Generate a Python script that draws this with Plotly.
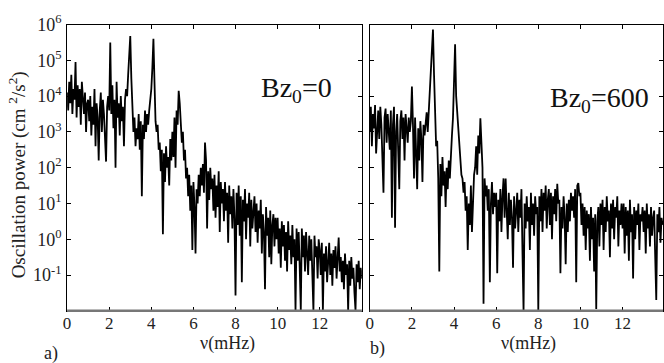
"""Oscillation power spectra for Bz0=0 and Bz0=600, two log panels."""

import numpy as np
import plotly.graph_objects as go

# frequency grid step (mHz) shared by both spectra
freq_step = 0.05

# log10 of oscillation power (cm^2/s^2), panel a) Bz0=0
log_power_a = [
    4.1, 3.6, 4.4, 3.8, 4.6, 3.5, 4.2, 3.9, 4.95, 3.4, 4.3, 3.7, 4.2, 3.2, 4.4, 3.9, 3.5, 4.1, 3.0, 3.8,
    3.9, 3.3, 4.0, 2.9, 3.7, 3.2, 4.2, 2.6, 3.8, 3.4, 2.2, 3.6, 4.1, 3.0, 3.9, 3.5, 2.5, 2.17, 3.7, 4.0,
    3.6, 5.5, 3.5, 4.3, 3.1, 3.9, 2.0, 4.4, 3.4, 3.8, 2.9, 4.0, 3.3, 3.7, 2.6, 3.9, 4.2, 4.0, 4.6, 5.1,
    5.68, 4.5, 3.6, 3.0, 3.4, 2.6, 3.1, 2.8, 3.5, 2.5, 3.3, 1.2, 3.2, 2.8, 3.6, 3.0, 3.5, 3.2, 3.6, 3.9,
    4.2, 4.8, 5.6, 4.4, 3.3, 3.0, 3.2, 2.5, 2.7, 1.9, 2.5, 0.14, 2.4, 1.6, 2.6, 2.0, 2.3, 1.5, 2.8, 2.2,
    3.0, 2.3, 3.4, 2.0, 3.6, 3.2, 4.15, 3.8, 3.3, 2.7, 3.0, 2.2, 2.5, 1.7, 2.0, 1.2, 1.8, 0.8, 1.5, -0.3,
    1.6, 0.9, -0.4, 1.4, 1.0, 1.8, 1.2, 2.0, 1.5, 2.1, 1.3, 2.7, 2.2, 0.3, 1.9, 1.1, 2.0, 1.4, 1.7, 0.8,
    1.8, 0.6, 1.5, 0.9, 1.9, 0.2, 1.6, 1.0, 1.4, 0.5, 1.6, 0.8, 1.3, -0.1, 1.5, 0.7, 1.2, 0.3, 1.4, 0.6,
    -1.57, 1.3, 0.4, 1.5, 0.1, 1.2, -1.2, 1.1, 0.5, 1.4, 0.0, 1.0, 0.6, 1.3, -0.2, 1.1, 0.3, 0.9, 1.2, 0.2,
    1.0, -0.1, 0.8, 0.3, 1.1, -0.4, 0.7, 0.2, -1.4, 0.9, 0.1, 0.6, -0.5, 0.8, -0.7, 0.4, 0.7, -0.2, 0.6, 0.0,
    0.6, -0.4, 0.3, -0.8, 0.5, -0.2, 0.4, -0.6, 0.2, -0.9, 0.5, -0.3, 0.1, -0.7, 0.4, -0.5, 0.0, -2.0, 0.3, -0.6,
    0.2, -0.8, -2.0, 0.3, -0.5, 0.1, -0.9, 0.2, -0.4, -1.0, 0.1, -0.6, 0.0, -0.8, -2.0, 0.1, -0.5, -0.2, -1.1, 0.0,
    -0.3, -1.0, -0.1, -2.0, -0.4, -0.9, -0.2, -1.2, -0.5, -0.1, -1.0, -0.4, -1.3, -0.3, -0.8, -0.2, -1.1, -0.5, 0.05, -0.9,
    -0.5, -1.2, -0.6, -1.4, -0.4, -1.0, -0.7, -2.0, -0.6, -1.3, -0.5, -1.1, -0.8, -1.5, -2.0, -0.7, -1.2, -0.6, -1.4, -0.8, -1.1,
]

# log10 of oscillation power, panel b) Bz0=600
log_power_b = [
    3.0, 3.7, 2.6, 3.5, 3.1, 3.75, 2.4, 3.3, 3.6, 2.8, 3.7, 3.2, 2.2, 1.3, 3.4, 3.65, 2.7, 3.5, 3.0, 2.5,
    3.6, 0.6, 3.2, 3.7, 0.32, 3.0, 3.5, 2.6, 1.4, 3.3, 3.6, 2.8, 3.4, 2.2, 3.5, 3.1, 2.7, 3.4, 3.0, 3.3,
    4.27, 3.2, 1.7, 3.4, 2.5, 1.4, 3.1, 2.2, 3.3, 2.8, 1.6, 3.2, 2.9, 3.4, 3.55, 3.0, 3.6, 3.9, 4.5, 5.0,
    5.86, 4.6, 3.5, 2.6, 2.75, 1.7, -0.9, 2.1, 1.2, 2.3, 1.5, 1.9, 0.9, 2.0, 1.4, 2.2, 1.7, 2.5, 2.9, 3.4,
    4.2, 5.45, 4.0, 3.6, 3.0, 2.8, 2.3, 1.8, 1.7, 1.3, 1.6, 0.8, 1.2, -0.3, 1.0, 0.4, 1.5, 0.2, 1.0, 1.8,
    2.0, 2.6, 1.8, 2.9, 2.4, 3.38, 2.7, 2.0, -1.8, 1.7, 1.2, 1.5, 0.8, 1.4, -1.2, 1.0, 1.6, 0.7, 1.3, 0.9,
    1.3, -0.95, 1.1, 0.5, 1.4, 0.2, 1.2, 1.7, 0.6, 1.7, 0.8, 0.0, 1.3, 0.4, 1.1, 0.6, -0.8, 1.2, 0.3, 1.0,
    1.3, 0.2, 1.1, 0.6, 1.4, -0.4, -2.0, 1.0, 0.3, 1.2, 0.5, 0.9, -0.3, 1.3, 0.4, 1.0, 0.1, 1.2, 0.7, 0.9,
    -2.0, 1.2, 0.5, 1.4, 0.2, 1.3, 0.8, 1.5, 0.3, 1.1, 1.4, 0.4, 1.3, 0.0, 1.2, 0.7, 1.4, 0.5, 1.55, 1.0,
    1.1, -0.95, 0.9, 0.3, 1.2, 0.6, -0.7, 1.0, 0.2, 1.1, 0.5, 1.3, 0.8, 1.2, 0.6, 1.4, -1.2, 1.5, 1.57, 1.2,
    1.3, 0.4, 1.0, 0.1, 0.9, -0.3, 0.8, 0.3, 0.7, -0.6, 0.9, 0.0, 0.6, -0.9, 0.7, -1.95, 0.5, 0.9, -0.2, 1.0,
    0.4, 1.1, -0.3, 0.9, 0.2, 1.2, 0.5, 0.8, -0.5, 1.0, 0.3, 1.1, 0.0, 0.9, 0.6, 1.2, -0.2, 0.8, 0.4, 1.0,
    0.3, 1.0, -0.4, 0.9, 0.1, 0.8, -0.6, 1.1, 0.2, 0.7, -1.1, 0.9, 0.0, 0.8, 0.4, 1.0, -0.3, 0.7, 0.5, 0.9,
    0.2, 0.8, -0.4, 1.0, 0.3, 0.7, -0.2, 0.9, 0.1, 0.6, 0.8, -0.5, -1.7, 0.7, 0.2, 0.9, -0.1, 0.6, 0.4,
]

x_ticks = [0, 2, 4, 6, 8, 10, 12]
y_exponents = [-1, 0, 1, 2, 3, 4, 5, 6]

W, H = 664, 363
FONT = "Liberation Serif, Times New Roman, serif"


def px_x(v):
    return v / W


def px_y(v):
    return 1 - v / H


freq_a = np.round(np.arange(len(log_power_a)) * freq_step, 2)
freq_b = np.round(np.arange(len(log_power_b)) * freq_step, 2)

fig = go.Figure()
fig.add_trace(go.Scatter(x=freq_a, y=10.0 ** np.array(log_power_a), mode="lines",
                         line={"color": "#000000", "width": 1.8}, xaxis="x", yaxis="y", showlegend=False))
fig.add_trace(go.Scatter(x=freq_b, y=10.0 ** np.array(log_power_b), mode="lines",
                         line={"color": "#000000", "width": 1.8}, xaxis="x2", yaxis="y2", showlegend=False))

axis_common = dict(showline=True, linecolor="#000000", linewidth=1, mirror="allticks", ticks="inside",
                   ticklen=4, tickcolor="#000000", showgrid=False, zeroline=False,
                   tickfont={"family": FONT, "size": 17, "color": "#222222"})
ydom = [px_y(309), px_y(13)]
fig.update_layout(
    width=W, height=H, margin={"l": 0, "r": 0, "t": 0, "b": 0},
    plot_bgcolor="#ffffff", paper_bgcolor="#ffffff",
    xaxis=dict(axis_common, domain=[px_x(63.5), px_x(360)], range=[0, 14], tickvals=x_ticks,
               anchor="y", ticklabelstandoff=-3),
    xaxis2=dict(axis_common, domain=[px_x(368), px_x(663)], range=[0, 13.92], tickvals=x_ticks,
                anchor="y2", ticklabelstandoff=-3),
    yaxis=dict(axis_common, domain=ydom, type="log", range=[-2, 6], anchor="x",
               tickvals=[10.0 ** e for e in y_exponents],
               ticktext=[f"10<sup>{e}</sup>" for e in y_exponents], ticklabelstandoff=1,
               tickfont={"family": FONT, "size": 18, "color": "#222222"}),
    yaxis2=dict(axis_common, domain=ydom, type="log", range=[-2, 6], anchor="x2",
                tickvals=[10.0 ** e for e in y_exponents], showticklabels=False),
)

# thicker grey bottom frame line like the original
for xr in ("x domain", "x2 domain"):
    yr = "y domain" if xr == "x domain" else "y2 domain"
    fig.add_shape(type="line", xref=xr, yref=yr, x0=0, x1=1, y0=0, y1=0,
                  line={"color": "#777777", "width": 2.5})

text_font = {"family": FONT, "size": 18, "color": "#222222"}
fig.add_annotation(text="Oscillation power (cm <sup>2</sup>/s<sup>2</sup>)", textangle=-90,
                   xref="paper", yref="paper", x=px_x(14), y=px_y(168), xanchor="center",
                   yanchor="middle", showarrow=False,
                   font={"family": FONT, "size": 19, "color": "#222222"})
for label, cx in (("ν(mHz)", 225), ("ν(mHz)", 528)):
    fig.add_annotation(text=label, xref="paper", yref="paper", x=px_x(cx), y=px_y(343),
                       xanchor="center", yanchor="middle", showarrow=False, font=text_font)
fig.add_annotation(text="a)", xref="paper", yref="paper", x=px_x(47), y=px_y(353),
                   xanchor="center", yanchor="middle", showarrow=False, font=text_font)
fig.add_annotation(text="b)", xref="paper", yref="paper", x=px_x(376), y=px_y(348),
                   xanchor="center", yanchor="middle", showarrow=False, font=text_font)
big_font = {"family": FONT, "size": 28, "color": "#111111"}
fig.add_annotation(text="Bz<sub>0</sub>=0", xref="paper", yref="paper", x=px_x(257), y=px_y(80),
                   xanchor="left", yanchor="middle", showarrow=False, font=big_font)
fig.add_annotation(text="Bz<sub>0</sub>=600", xref="paper", yref="paper", x=px_x(547), y=px_y(91),
                   xanchor="left", yanchor="middle", showarrow=False, font=big_font)

# the page's default 8px body margin would shift the figure; drop it
fig.write_html("out.html", config={"displayModeBar": False},
               post_script="document.body.style.margin='0';")
